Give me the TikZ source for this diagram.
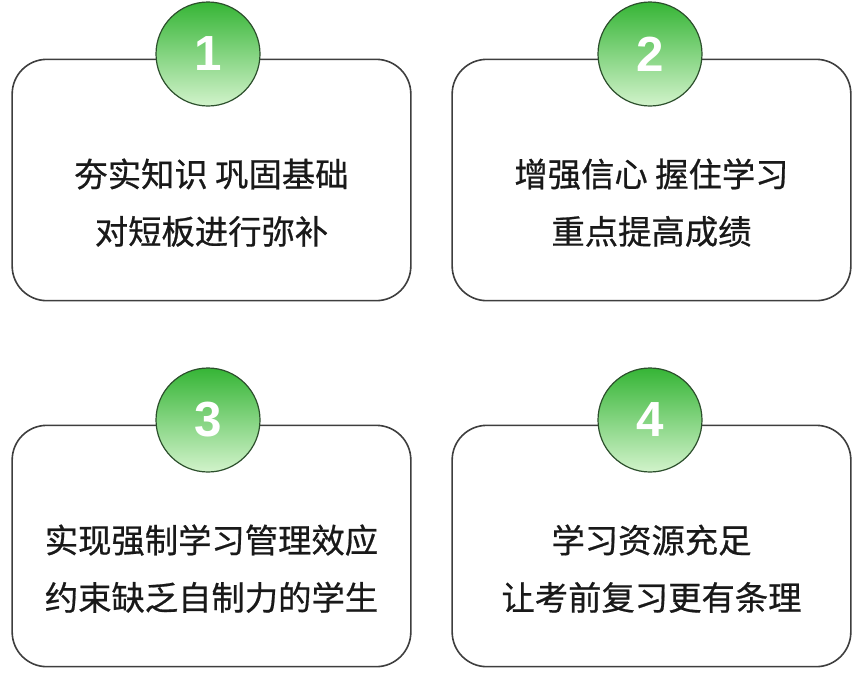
\documentclass[tikz,border=0pt]{standalone}
\usepackage{fontspec}
\setmainfont{Liberation Sans}
\newfontfamily\cjk[FakeBold=0.6]{Noto Sans CJK SC}
\usetikzlibrary{positioning}

\definecolor{verdeOsc}{HTML}{36B536}
\definecolor{verdeClaro}{HTML}{D2F3CB}
\definecolor{bordeCaja}{HTML}{3E3E3E}
\definecolor{bordeCirc}{HTML}{2C4F2C}

\tikzset{
  caja/.style={draw=bordeCaja, line width=1.2pt, rounded corners=26pt, fill=white,
    minimum width=299pt, minimum height=181pt, inner sep=0pt},
  texto/.style={align=center, font=\cjk\fontsize{25}{43}\selectfont, text=black!90},
  circulo/.style={circle, draw=bordeCirc, line width=0.9pt, minimum size=78pt, inner sep=0pt,
    top color=verdeOsc, bottom color=verdeClaro, text=white, font=\bfseries\fontsize{37}{37}\selectfont}
}

\begin{document}
\begin{tikzpicture}[x=0.75pt, y=-0.75pt]
    % Marco del dibujo (860 x 676 px)
    \useasboundingbox (0,0) rectangle (860,676);

    % Cajas redondeadas
    \node[caja] (caja1) at (211.5,180) {};
    \node[caja] (caja2) at (651.5,180) {};
    \node[caja] (caja3) at (211.5,546) {};
    \node[caja] (caja4) at (651.5,546) {};

    % Textos de cada caja (algo por debajo del centro)
    \node[texto] (texto1) at ([yshift=-17pt]caja1.center) {夯实知识 巩固基础\\对短板进行弥补};
    \node[texto] (texto2) at ([yshift=-17pt]caja2.center) {增强信心 握住学习\\重点提高成绩};
    \node[texto] (texto3) at ([yshift=-17pt]caja3.center) {实现强制学习管理效应\\约束缺乏自制力的学生};
    \node[texto] (texto4) at ([yshift=-17pt]caja4.center) {学习资源充足\\让考前复习更有条理};

    % Circulos numerados sobre el borde superior
    \node[circulo] (num1) at (208,54) {1};
    \node[circulo] (num2) at (650,54) {2};
    \node[circulo] (num3) at (208,420) {3};
    \node[circulo] (num4) at (650,420) {4};
\end{tikzpicture}
\end{document}
